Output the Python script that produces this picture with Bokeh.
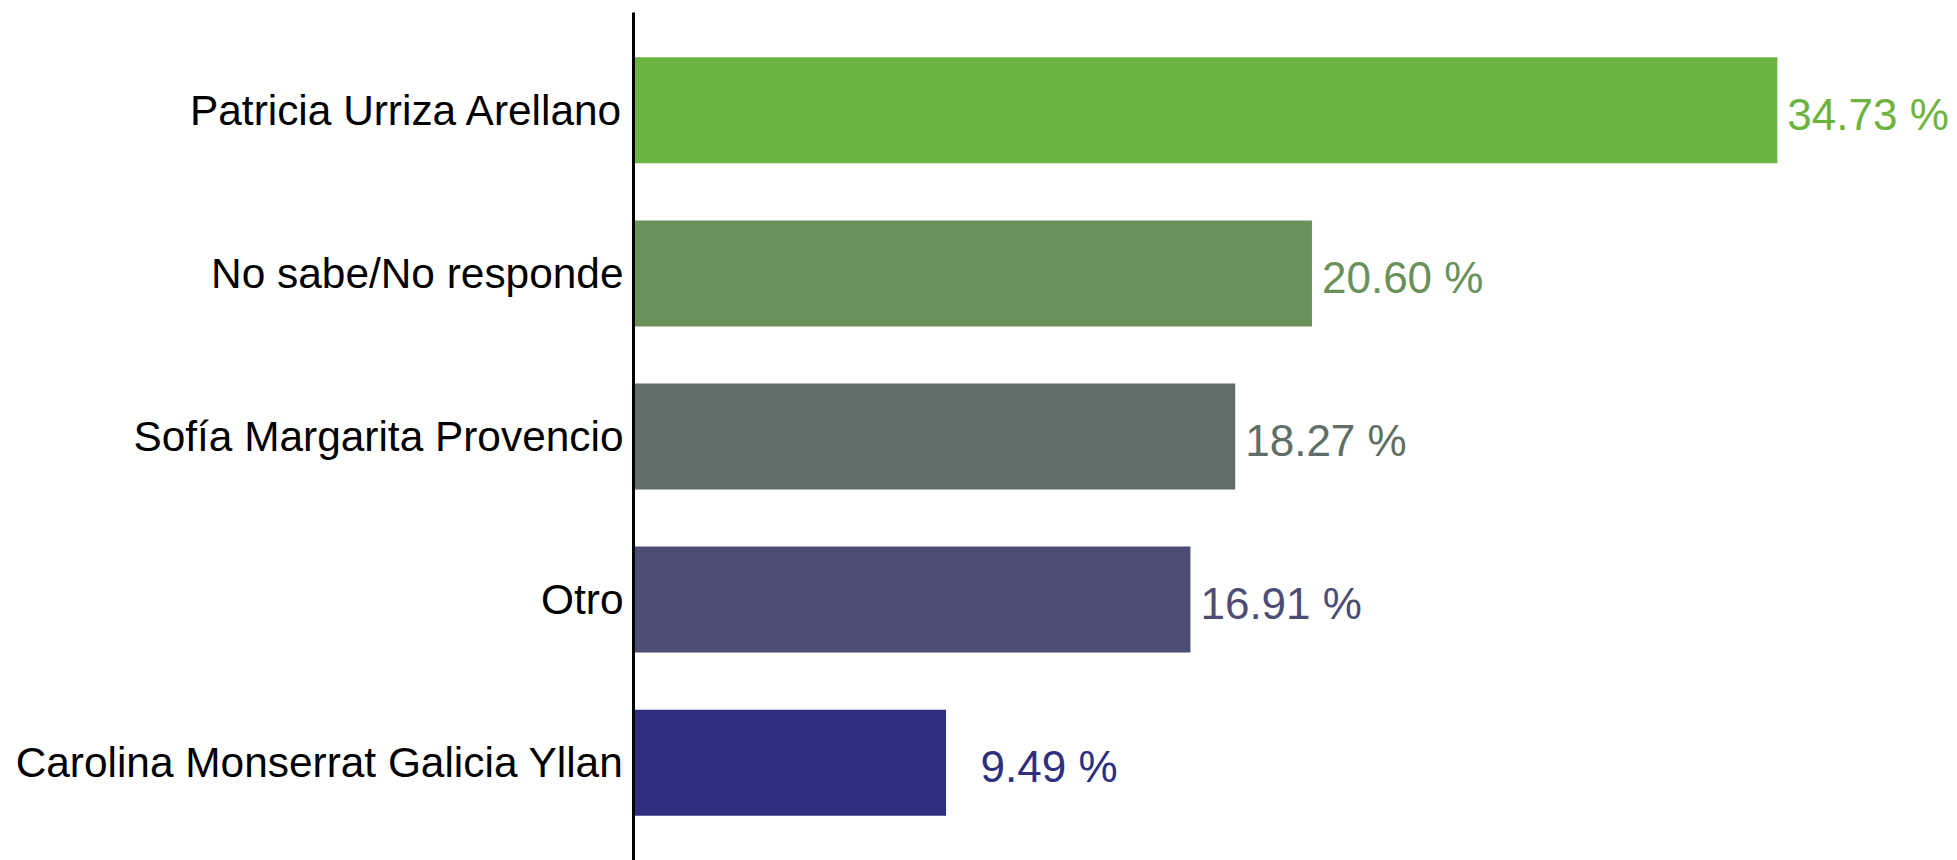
from bokeh.plotting import figure
from bokeh.models import ColumnDataSource, FactorRange, Range1d
from bokeh.core.properties import value
from bokeh.embed import file_html
from bokeh.resources import INLINE

candidates = [
    "Patricia Urriza Arellano",
    "No sabe/No responde",
    "Sofía Margarita Provencio",
    "Otro",
    "Carolina Monserrat Galicia Yllan",
]
percentages = [34.73, 20.60, 18.27, 16.91, 9.49]
colors = ["#6db33f", "#6a9159", "#5f6f67", "#4c4d74", "#2e2f7e"]
labels = [f"{v:.2f}".rjust(5, "\u2007") + " %" for v in percentages]

src = ColumnDataSource(dict(cand=candidates, pct=percentages, color=colors, label=labels))

p = figure(
    width=1957, height=860,
    y_range=FactorRange(factors=candidates[::-1], range_padding=0.1, range_padding_units="absolute"),
    x_range=Range1d(0, 40.2),
    x_axis_location=None,
    output_backend="svg", toolbar_location=None,
    min_border_left=633, min_border_right=0, min_border_top=12, min_border_bottom=0,
)
p.hbar(y="cand", left=0, right="pct", height=0.65, fill_color="color", line_color=None, source=src)
p.text(x="pct", y="cand", text="label", text_color="color", x_offset=10, y_offset=4,
       text_baseline="middle", text_align="left",
       text_font=value("Liberation Sans"), text_font_size="44px", source=src)

p.xgrid.visible = False
p.ygrid.visible = False
p.outline_line_color = None
p.background_fill_color = "white"
p.border_fill_color = "white"

ax = p.yaxis[0]
ax.axis_line_color = "black"
ax.axis_line_width = 3
ax.major_tick_line_color = None
ax.minor_tick_line_color = None
ax.major_tick_out = 0
ax.major_tick_in = 0
ax.major_label_standoff = 10
ax.major_label_text_font = "Liberation Sans"
ax.major_label_text_font_size = "42.4px"
ax.major_label_text_color = "black"

open("out.html", "w").write(file_html(p, INLINE))
